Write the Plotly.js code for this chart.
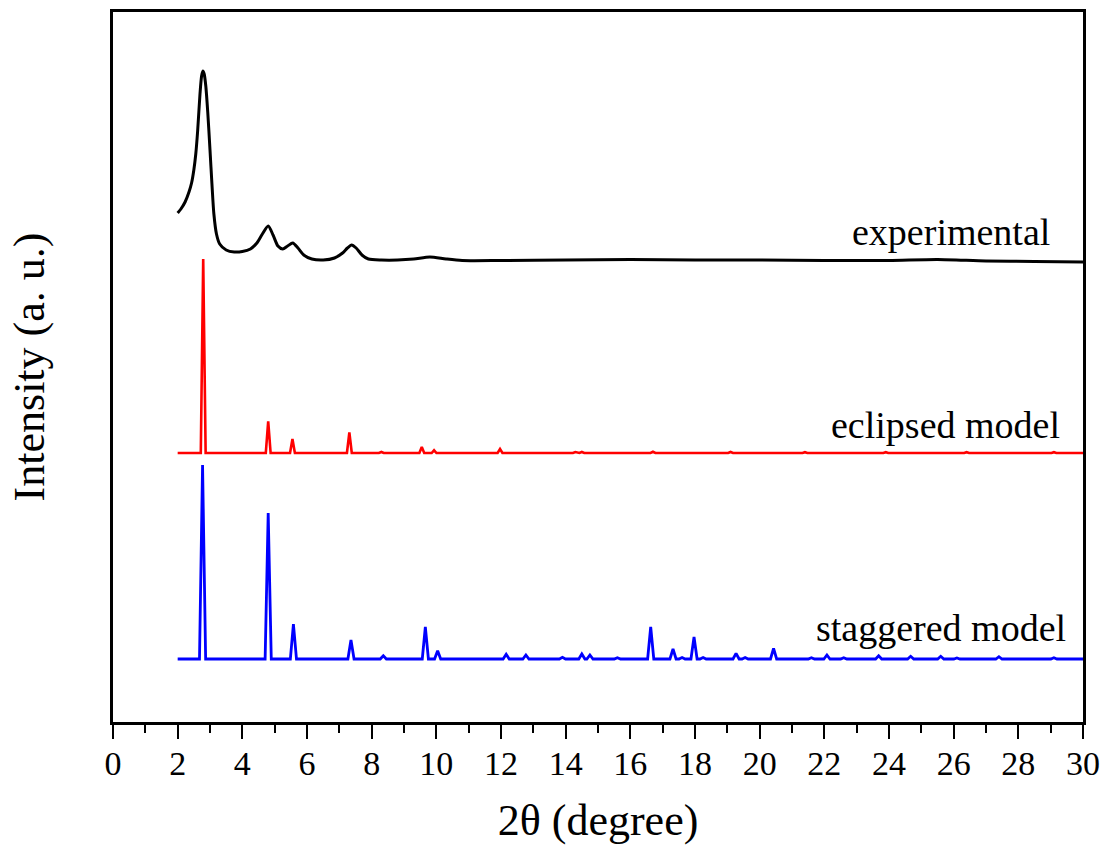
<!DOCTYPE html>
<html>
<head>
<meta charset="utf-8">
<script src="https://cdn.plot.ly/plotly-3.0.1.min.js"></script>
<style>
html,body{margin:0;padding:0;background:#fff;}
#chart{width:1107px;height:859px;}
</style>
</head>
<body>
<div id="chart"></div>
<script>
// ---- Data (intensity in arbitrary units above each curve's baseline) ----
const expX = [2.0, 2.1, 2.23, 2.35, 2.43, 2.5, 2.56, 2.62, 2.69, 2.74, 2.78, 2.82, 2.87, 2.93, 3.0, 3.06, 3.12, 3.2, 3.3, 3.5, 3.75, 4.0, 4.25, 4.45, 4.62, 4.8, 4.95, 5.1, 5.25, 5.4, 5.56, 5.72, 5.9, 6.15, 6.5, 6.85, 7.1, 7.25, 7.38, 7.52, 7.7, 7.9, 8.3, 8.8, 9.3, 9.8, 10.3, 10.8, 12, 14, 16, 18, 20, 22, 24, 25.5, 27, 28.5, 30];
const expY = [49, 53, 60, 70, 79, 92, 108, 132, 168, 186, 191, 188, 176, 150, 112, 78, 48, 28, 18, 12, 10, 10.5, 13, 19, 28, 36, 27, 16, 13, 16, 19, 14, 7, 3, 2, 4, 9, 14, 17, 14, 7, 3, 2, 2, 3, 5, 3, 1.5, 1.5, 2, 2.5, 2, 2, 1.5, 1.5, 2.5, 1, 0.5, 0];

const eclipsedPeakPos = [2.79, 4.80, 5.55, 7.31, 8.30, 9.55, 9.93, 11.97, 14.30, 14.50, 16.70, 19.10, 21.40, 23.90, 26.40, 29.10];
const eclipsedPeakInt = [194, 31.6, 14, 20.7, 1, 6, 2.7, 4, 1, 1, 1.2, 1, 0.8, 0.8, 0.8, 0.8];

const staggeredPeakPos = [2.77, 4.80, 5.58, 7.36, 8.36, 9.66, 10.04, 12.16, 12.77, 13.90, 14.50, 14.75, 15.60, 16.63, 17.32, 17.60, 17.97, 18.25, 19.27, 19.55, 20.43, 21.60, 22.08, 22.60, 23.68, 24.67, 25.60, 26.10, 27.40, 29.10];
const staggeredPeakInt = [194, 146, 35, 19, 3.3, 32, 8.3, 4.7, 4, 1.7, 5, 4, 1.3, 32, 10, 1.5, 22, 1.5, 5.7, 1.5, 10.7, 1.3, 4, 1.3, 3.3, 2.7, 2.7, 1, 2.3, 1.3];

const xTickVals = [0, 2, 4, 6, 8, 10, 12, 14, 16, 18, 20, 22, 24, 26, 28, 30];
const curveLabels = ["experimental", "eclipsed model", "staggered model"];

// ---- Layout / style constants (vertical offsets of the stacked patterns) ----
const OFFSET_EXP = 460, OFFSET_ECL = 269, OFFSET_STG = 63;
const SCAN_START = 2.0, SCAN_END = 30.0;

function stickProfile(pos, inten, hw, offset) {
  const xs = [SCAN_START], ys = [offset];
  for (let i = 0; i < pos.length; i++) {
    xs.push(pos[i] - hw, pos[i], pos[i] + hw);
    ys.push(offset, offset + inten[i], offset);
  }
  xs.push(SCAN_END); ys.push(offset);
  return {x: xs, y: ys};
}

const ecl = stickProfile(eclipsedPeakPos, eclipsedPeakInt, 0.075, OFFSET_ECL);
const stg = stickProfile(staggeredPeakPos, staggeredPeakInt, 0.095, OFFSET_STG);

const traces = [
  {x: expX, y: expY.map(v => v + OFFSET_EXP), mode: 'lines', name: curveLabels[0],
   line: {color: '#000000', width: 3, shape: 'spline', smoothing: 0.7}},
  {x: ecl.x, y: ecl.y, mode: 'lines', name: curveLabels[1],
   line: {color: '#ff0000', width: 2.6}},
  {x: stg.x, y: stg.y, mode: 'lines', name: curveLabels[2],
   line: {color: '#0000ff', width: 2.8}}
];

const serif = 'Liberation Serif, Times New Roman, serif';
const layout = {
  width: 1107, height: 859,
  margin: {l: 113, r: 24, t: 12, b: 137},
  paper_bgcolor: '#ffffff', plot_bgcolor: '#ffffff',
  showlegend: false,
  font: {family: serif, color: '#000000'},
  xaxis: {
    range: [0, 30], tickvals: xTickVals, ticktext: xTickVals.map(String),
    ticks: 'outside', ticklen: 14, tickwidth: 2, tickcolor: '#000',
    ticklabelstandoff: -5,
    minor: {dtick: 1, ticks: 'outside', ticklen: 8, tickwidth: 2, tickcolor: '#000'},
    showline: true, linewidth: 3, linecolor: '#000', mirror: true,
    showgrid: false, zeroline: false,
    tickfont: {family: serif, size: 34, color: '#000'},
    title: {text: '2θ (degree)', font: {family: serif, size: 44, color: '#000'}, standoff: 24}
  },
  yaxis: {
    range: [0, 710], showticklabels: false, ticks: '',
    showline: true, linewidth: 3, linecolor: '#000', mirror: true,
    showgrid: false, zeroline: false,
    title: {text: 'Intensity (a. u.)', font: {family: serif, size: 44, color: '#000'}, standoff: 52}
  },
  annotations: [
    {x: 29.04, y: 490, xref: 'x', yref: 'y', text: curveLabels[0], showarrow: false, xanchor: 'right', yanchor: 'middle', font: {family: serif, size: 38, color: '#000'}},
    {x: 29.35, y: 297, xref: 'x', yref: 'y', text: curveLabels[1], showarrow: false, xanchor: 'right', yanchor: 'middle', font: {family: serif, size: 38, color: '#000'}},
    {x: 29.54, y: 94, xref: 'x', yref: 'y', text: curveLabels[2], showarrow: false, xanchor: 'right', yanchor: 'middle', font: {family: serif, size: 38, color: '#000'}}
  ]
};

Plotly.newPlot('chart', traces, layout, {displayModeBar: false, staticPlot: true});
</script>
</body>
</html>
